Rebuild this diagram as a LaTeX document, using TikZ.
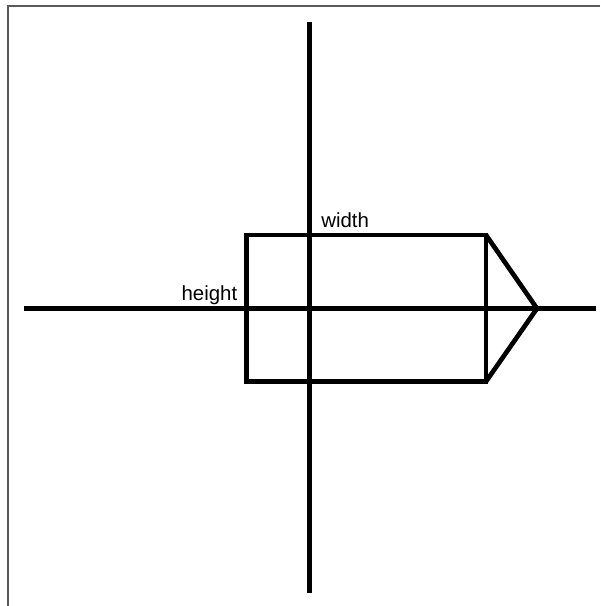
\documentclass[tikz,border=0pt]{standalone}
\usepackage{fontspec}
\setmainfont{Liberation Sans}
\begin{document}
\begin{tikzpicture}[x=0.75pt,y=-0.75pt,
  axisline/.style={line width=3.5pt},
  bodyline/.style={line width=3.5pt,line join=miter},
  frameline/.style={line width=1pt,draw=black!65},
  lbl/.style={font=\fontsize{15.3}{17}\selectfont,inner sep=0pt}]
\useasboundingbox (0,0) rectangle (600,606);
\draw[frameline] (600,6) -- (8,6) -- (8,606);
% axes
\coordinate (vt) at (309.5,22);
\coordinate (vb) at (309.5,593);
\coordinate (hl) at (24,308.5);
\coordinate (hr) at (596,308.5);
\draw[axisline] (vt) -- (vb);
\draw[axisline] (hl) -- (hr);
% body
\coordinate (tl) at (246.5,235);
\coordinate (tr) at (486,235);
\coordinate (br) at (486,381.5);
\coordinate (bl) at (246.5,381.5);
\coordinate (tip) at (537,308.5);
\draw[bodyline] (tr) -- (tl) -- (bl) -- (br) -- cycle;
\draw[bodyline] (tr) -- (tip) -- (br);
\node[lbl,anchor=base west] (w) at (321,227) {width};
\node[lbl,anchor=base east] (h) at (237.5,300) {height};
\end{tikzpicture}
\end{document}
